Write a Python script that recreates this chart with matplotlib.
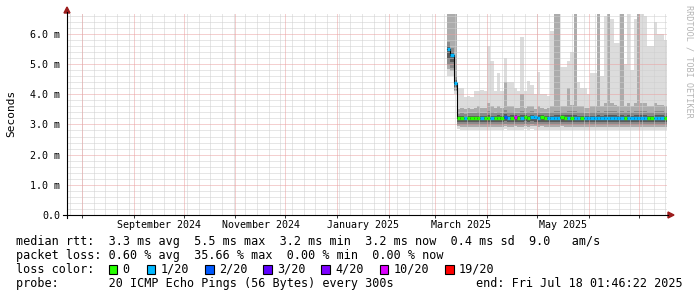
import numpy as np
import pandas as pd
import matplotlib
matplotlib.use("Agg")
import matplotlib.pyplot as plt
from matplotlib.patches import Polygon, Rectangle
from matplotlib.lines import Line2D

W, H = 697, 297

start = pd.Timestamp("2024-07-23 01:46:22")
end = pd.Timestamp("2025-07-18 01:46:22")

# consolidated 2-day steps, data only exists from early March 2025
dates = pd.date_range("2025-03-08 01:46:22", periods=66, freq="2D")

median = [5.50, 5.30, 4.37, 3.21, 3.22, 3.20, 3.22, 3.23, 3.22, 3.22,
          3.20, 3.22, 3.22, 3.21, 3.22, 3.23, 3.22, 3.25, 3.22, 3.23,
          3.24, 3.22, 3.23, 3.24, 3.22, 3.26, 3.24, 3.23, 3.24, 3.23,
          3.22, 3.22, 3.23, 3.22, 3.24, 3.23, 3.22, 3.21, 3.22, 3.21,
          3.22, 3.22, 3.21, 3.22, 3.22, 3.21, 3.22, 3.23, 3.22, 3.21,
          3.22, 3.22, 3.23, 3.22, 3.21, 3.22, 3.22, 3.21, 3.21, 3.22,
          3.22, 3.21, 3.22, 3.21, 3.22, 3.22]

smoke_max = [6.70, 6.70, 6.70, 4.20, 4.20, 3.90, 3.95, 3.90, 4.10, 4.10,
             4.15, 4.10, 5.60, 5.10, 4.10, 4.70, 4.10, 5.20, 4.40, 4.40,
             4.20, 4.10, 5.90, 4.10, 4.45, 4.30, 4.00, 4.75, 4.00, 4.00,
             3.95, 6.10, 5.90, 6.70, 4.90, 4.90, 5.10, 5.40, 6.70, 4.40,
             4.20, 4.20, 4.00, 4.70, 4.70, 6.70, 4.60, 6.60, 6.70, 6.50,
             5.70, 5.70, 6.70, 5.00, 6.70, 4.80, 6.50, 6.70, 6.70, 6.60,
             5.60, 5.60, 6.40, 6.00, 6.00, 5.80]

smoke_mid = [6.70, 6.70, 6.70, 3.50, 3.55, 3.50, 3.55, 3.50, 3.55, 3.60,
             3.55, 3.55, 3.70, 3.60, 3.55, 3.60, 3.55, 4.40, 3.60, 3.60,
             3.55, 3.55, 4.00, 3.55, 3.60, 3.60, 3.50, 3.60, 3.55, 3.50,
             3.55, 3.60, 6.70, 6.70, 3.60, 3.60, 4.20, 3.65, 6.70, 3.60,
             3.60, 3.55, 3.55, 3.60, 3.60, 6.70, 3.60, 3.70, 6.70, 3.70,
             3.65, 3.60, 6.70, 3.60, 3.70, 3.60, 3.70, 6.70, 3.70, 3.70,
             3.60, 3.60, 3.70, 3.65, 3.65, 3.60]

smoke_min = [4.60, 4.60, 4.00, 2.84, 2.83, 2.82, 2.83, 2.82, 2.83, 2.82,
             2.82, 2.83, 2.82, 2.82, 2.83, 2.82, 2.82, 2.84, 2.82, 2.83,
             2.83, 2.82, 2.83, 2.84, 2.82, 2.85, 2.83, 2.82, 2.83, 2.82,
             2.82, 2.82, 2.83, 2.82, 2.83, 2.82, 2.82, 2.81, 2.82, 2.81,
             2.82, 2.82, 2.81, 2.82, 2.82, 2.81, 2.82, 2.83, 2.82, 2.81,
             2.82, 2.82, 2.83, 2.82, 2.81, 2.82, 2.82, 2.81, 2.81, 2.82,
             2.82, 2.81, 2.82, 2.81, 2.82, 2.82]

loss = ["1/20", "1/20", "1/20", "0", "0", "1/20", "0", "0", "0", "0",
        "1/20", "0", "0", "1/20", "0", "0", "0", "2/20", "1/20", "0",
        "10/20", "0", "1/20", "0", "0", "1/20", "1/20", "1/20", "0", "0",
        "1/20", "1/20", "1/20", "1/20", "0", "0", "1/20", "0", "1/20", "1/20",
        "0", "1/20", "1/20", "1/20", "1/20", "1/20", "1/20", "1/20", "1/20", "1/20",
        "1/20", "1/20", "1/20", "0", "1/20", "1/20", "1/20", "1/20", "1/20", "1/20",
        "0", "0", "1/20", "1/20", "1/20", "0"]

loss_labels = ["0", "1/20", "2/20", "3/20", "4/20", "10/20", "19/20"]
loss_colors = ["#26ff00", "#00b8ff", "#0059ff", "#5e00ff", "#7e00ff", "#dd00ff", "#ff0000"]

ytick_vals = [0, 1, 2, 3, 4, 5, 6]
ytick_labels = ["0.0", "1.0 m", "2.0 m", "3.0 m", "4.0 m", "5.0 m", "6.0 m"]
xlabel_dates = ["2024-09-16 12:00", "2024-11-16 12:00", "2025-01-16 12:00",
                "2025-03-16 12:00", "2025-05-16 12:00"]
xlabel_text = ["September 2024", "November 2024", "January 2025", "March 2025", "May 2025"]

legend_lines = [
    "median rtt:  3.3 ms avg  5.5 ms max  3.2 ms min  3.2 ms now  0.4 ms sd  9.0   am/s",
    "packet loss: 0.60 % avg  35.66 % max  0.00 % min  0.00 % now",
    "loss color:",
    "probe:       20 ICMP Echo Pings (56 Bytes) every 300s",
]
end_text = "end: Fri Jul 18 01:46:22 2025"

plt.rcParams["font.family"] = "DejaVu Sans Mono"


def fx(x):
    return x / W


def fy(y):
    return 1 - y / H


fig = plt.figure(figsize=(W / 100, H / 100), dpi=100)
fig.patch.set_facecolor("white")
ax = fig.add_axes([fx(67), fy(215), (667 - 67) / W, (215 - 14) / H])
ax.set_xlim(start, end)
ax.set_ylim(0, 6.66)
for s in ax.spines.values():
    s.set_visible(False)

# smoke
med = np.array(median)
lo = np.array(smoke_min)
mid = np.array(smoke_mid)
hi = np.array(smoke_max)
xs = list(dates) + [end]


def ext(v):
    return np.append(v, v[-1])


inner_top = np.minimum(mid, med + 0.45)
layers = [
    (lo, hi, "#dcdcdc"),
    (lo + 0.25 * (med - lo), mid, "#acacac"),
    (med - 0.6 * (med - lo), med + 0.5 * (inner_top - med), "#8a8a8a"),
    (med - 0.35 * (med - lo), med + 0.2 * (inner_top - med), "#5a5a5a"),
]
for a, b, c in layers:
    ax.fill_between(xs, ext(a), ext(b), step="post", color=c, lw=0, zorder=1)

# dotted grid
grid_kw = dict(lw=0.72, ls=(0, (1, 1)), zorder=3)
weeks = pd.date_range("2024-07-25", end, freq="W-THU")
months = pd.date_range("2024-08-01", end, freq="MS")
for d in weeks:
    ax.axvline(d, color="#cfcfcf", **grid_kw)
for v in np.arange(0.2, 6.7, 0.2):
    if abs(v - round(v)) > 0.01:
        ax.axhline(v, color="#cfcfcf", **grid_kw)
for d in months:
    ax.axvline(d, color="#eaa0a0", **grid_kw)
for v in ytick_vals[1:]:
    ax.axhline(v, color="#eaa0a0", **grid_kw)

# median line coloured by loss
ax.step(xs, ext(med), where="post", color="black", lw=0.8, zorder=4)
for i in range(len(dates)):
    c = loss_colors[loss_labels.index(loss[i])]
    ax.hlines(med[i], xs[i], xs[i + 1], color=c, lw=2.4, zorder=5)

ax.set_yticks(ytick_vals)
ax.set_yticklabels(ytick_labels, fontsize=7.2)
ax.tick_params(axis="y", length=0, pad=5)
ax.set_xticks(pd.to_datetime(xlabel_dates))
ax.set_xticklabels(xlabel_text, fontsize=7.2)
ax.set_xticks(months, minor=True)
ax.tick_params(axis="x", which="major", length=0, pad=3.5)
ax.tick_params(axis="x", which="minor", length=2, width=0.7, color="#333333")

# axes with arrows
fig.add_artist(Line2D([fx(63), fx(668)], [fy(215), fy(215)], color="black", lw=0.8))
fig.add_artist(Line2D([fx(67), fx(67)], [fy(218), fy(12)], color="black", lw=0.8))
fig.add_artist(Polygon([[fx(668), fy(212)], [fx(674), fy(215)], [fx(668), fy(218)]],
                       closed=True, color="#9b1c1c", transform=fig.transFigure))
fig.add_artist(Polygon([[fx(64), fy(13)], [fx(67), fy(7)], [fx(70), fy(13)]],
                       closed=True, color="#9b1c1c", transform=fig.transFigure))

fig.text(fx(11), fy(113), "Seconds", rotation=90, fontsize=8, ha="center", va="center")
fig.text(fx(688.5), fy(61), "RRDTOOL / TOBI OETIKER", rotation=-90, fontsize=6.1,
         color="#b4b4b4", ha="center", va="center")

# legend
baselines = [245, 259, 273, 287]
for txt, yb in zip(legend_lines, baselines):
    fig.text(fx(16), fy(yb), txt, fontsize=8.5, ha="left", va="baseline")
fig.text(fx(683), fy(287), end_text, fontsize=8.5, ha="right", va="baseline")

box_x = [108.5, 146.5, 205, 263, 321, 379.5, 445]
for bx, lab, col in zip(box_x, loss_labels, loss_colors):
    fig.add_artist(Rectangle((fx(bx), fy(274)), 8.5 / W, 9 / H, facecolor=col,
                             edgecolor="black", lw=0.8, transform=fig.transFigure))
    fig.text(fx(bx + 14), fy(273), lab, fontsize=8.5, ha="left", va="baseline")

fig.savefig("out.png", dpi=100)
